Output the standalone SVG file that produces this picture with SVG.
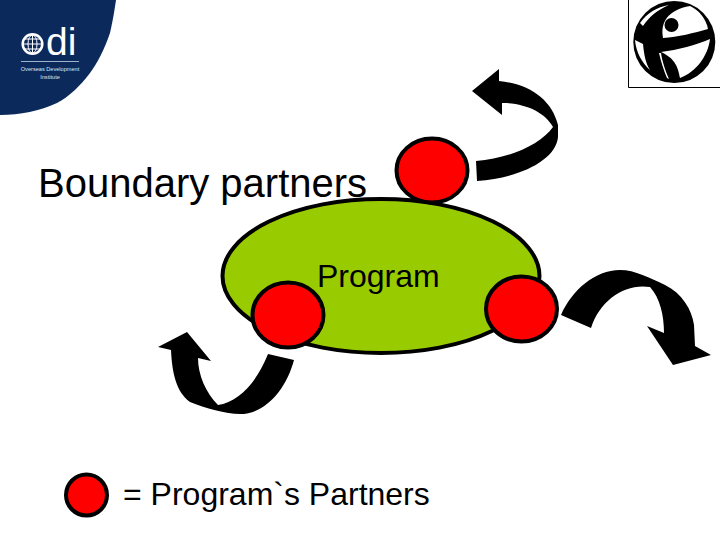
<svg xmlns="http://www.w3.org/2000/svg" width="720" height="540" viewBox="0 0 720 540">
<style>
text{font-family:"Liberation Sans",Arial,sans-serif;fill:#000}
.lbl{font-size:32px}
.w{fill:#fff;stroke:none}
.dot{fill:#f00;stroke:#000;stroke-width:4}
.arr{fill:#000;stroke:none}
.tiny{font-size:5.6px;fill:#dfe6f0;text-anchor:middle}
</style>
<rect width="720" height="540" fill="#fff"/>
<g id="odi-logo">
<path d="M0 0H116C114 14 112 24 110 33C104 50 98 62 90 73C80 86 70 96 57 103C40 111 20 115 0 115Z" fill="#0b2a5b"/>
<circle cx="32.500" cy="44" r="9.800" fill="#0b2a5b" stroke="#fff" stroke-width="2.500"/>
<g fill="none" stroke="#fff" stroke-width="1">
<ellipse cx="32.500" cy="44" rx="4.500" ry="9"/>
<path d="M23 44H42M24.500 39H40.500M24.500 49H40.500M32.500 35V53"/>
</g>
<text x="46" y="55" style="font-size:39px;fill:#fff">di</text>
<path d="M21 61.500H79" stroke="#9fb2cc" stroke-width="1"/>
<text class="tiny" x="50" y="71">Overseas Development</text>
<text class="tiny" x="50" y="79">Institute</text>
</g>
<g id="ti-logo">
<path d="M628.500 0V87.500H720" fill="none" stroke="#000" stroke-width="1"/>
<circle cx="674.300" cy="42" r="41" fill="#000"/>
<path class="w" d="M663 38C660 22 668 10 690 6C700 11 706 19 708 29C694 33 678 37 663 38Z"/>
<path class="w" d="M640 23C647 13 657 7 669 5C657 10 649 17 643 26Z"/>
<path class="w" d="M661 52C678 50 696 45 710 39C708 56 696 72 680 78C678 68 676 59 661 52Z"/>
<path class="w" d="M659 53C661 62 664 71 667 78L669 79C665 70 662 60 661 53Z"/>
<path class="w" d="M635 40L643 44C644 55 646 64 650 70C642 63 636 52 635 40Z"/>
<circle cx="671.500" cy="25" r="7" fill="#000"/>
</g>
<g id="program">
<ellipse cx="381" cy="276" rx="158.500" ry="77" fill="#9c0" stroke="#000" stroke-width="4"/>
<text class="lbl" x="317" y="287">Program</text>
</g>
<text id="boundary-label" x="38" y="197" style="font-size:40px">Boundary partners</text>
<g id="connectors">
<path class="arr" d="M472 91L499 69V81C530 84 552 100 558 125V137C556 160 520 178 477 181L476 161C510 158 540 145 553 127C545 112 525 103 502 103V115Z"/>
<path class="arr" d="M561 315C572 290 595 270 620 270C635 270 650 278 665 285C682 293 692 310 694 325L695 346L711 355L673 365L647 326L664 333C664 315 660 298 650 287C625 283 600 300 591 328Z"/>
<path class="arr" d="M158 347L187 332L211 361L198 358C198 375 206 393 218 405C238 402 256 384 268 354L294 360C286 390 265 414 240 414C226 414 205 408 190 402C176 392 172 372 171 350Z"/>
</g>
<g id="partner-top"><ellipse class="dot" cx="432" cy="170.500" rx="35.500" ry="32"/></g>
<g id="partner-right"><ellipse class="dot" cx="521.500" cy="309" rx="35.500" ry="32.500"/></g>
<g id="partner-left"><ellipse class="dot" cx="288" cy="315" rx="35.500" ry="32.500"/></g>
<g id="legend">
<ellipse class="dot" cx="86.500" cy="495" rx="20.500" ry="20.500"/>
<text class="lbl" x="123" y="505">= Program`s Partners</text>
</g>
</svg>
